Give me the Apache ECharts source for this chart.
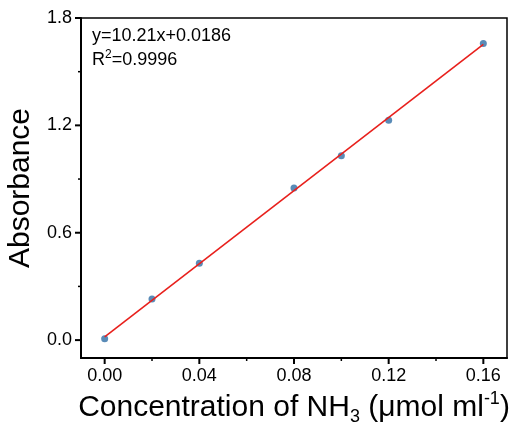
<!DOCTYPE html>
<html>
<head>
<meta charset="utf-8">
<script src="https://cdn.jsdelivr.net/npm/echarts@6/dist/echarts.min.js"></script>
<style>
  html, body { margin: 0; padding: 0; background: #fff; }
  #main { width: 513px; height: 423px; }
</style>
</head>
<body>
<div id="main"></div>
<script>
// measured points
const conc = [0, 0.02, 0.04, 0.08, 0.10, 0.12, 0.16];
const absorb = [0.008, 0.23, 0.43, 0.85, 1.03, 1.228, 1.658];
// fitted line y=10.21x+0.0186, ends at 0 and 0.16
const fitX = [0, 0.16];
const fitY = [0.0186, 1.6522];
// ticks
const xTicks = [0, 0.04, 0.08, 0.12, 0.16];
const xMinor = [0.02, 0.06, 0.10, 0.14];
const yTicks = [0, 0.6, 1.2, 1.8];
const yMinor = [0.3, 0.9, 1.5];

const X_MIN = -0.01, X_MAX = 0.17;
const Y_MIN = -0.1, Y_MAX = 1.8;

const FONT = 'Liberation Sans';
const chart = echarts.init(document.getElementById('main'));

// outward ticks: one custom series per tick set, positions from the axes
function tickSeries(dir, values, len, width) {
  return {
    type: 'custom',
    xAxisIndex: 0, yAxisIndex: 0,
    clip: false, silent: true, z: 5,
    data: values.map(v => (dir === 'x' ? [v, 0.5] : [0.05, v])),
    renderItem: function (params, api) {
      const style = { stroke: '#000', lineWidth: width };
      if (dir === 'x') {
        const p = api.coord([api.value(0), Y_MIN]);
        return { type: 'line', shape: { x1: p[0], y1: p[1], x2: p[0], y2: p[1] + len }, style: style };
      }
      const p = api.coord([X_MIN, api.value(1)]);
      return { type: 'line', shape: { x1: p[0] - len, y1: p[1], x2: p[0], y2: p[1] }, style: style };
    }
  };
}

let option = {
  animation: false,
  grid: {
    left: 81, right: 6, top: 18, bottom: 65, outerBoundsMode: 'none',
    show: true, borderColor: '#000', borderWidth: 1.5
  },
  xAxis: {
    type: 'value', min: X_MIN, max: X_MAX,
    splitLine: { show: false },
    axisLine: { show: true, onZero: false, lineStyle: { color: '#000', width: 2 } },
    axisTick: { show: false },
    axisLabel: {
      customValues: xTicks, margin: 9, color: '#000', fontSize: 18, fontFamily: FONT,
      formatter: v => v.toFixed(2)
    },
    name: '{t|Concentration of NH}{sub|3}{t| (\u03bcmol ml}{sup|-1}{t|)}',
    nameLocation: 'middle', nameGap: 28,
    nameTextStyle: {
      color: '#000', fontFamily: FONT, fontSize: 30,
      rich: {
        t: { fontSize: 30, fontFamily: FONT, color: '#000', lineHeight: 36 },
        sub: { fontSize: 18, fontFamily: FONT, color: '#000', lineHeight: 12, verticalAlign: 'bottom' },
        sup: { fontSize: 18, fontFamily: FONT, color: '#000', lineHeight: 18, verticalAlign: 'top' }
      }
    }
  },
  yAxis: {
    type: 'value', min: Y_MIN, max: Y_MAX,
    splitLine: { show: false },
    axisLine: { show: true, onZero: false, lineStyle: { color: '#000', width: 2 } },
    axisTick: { show: false },
    axisLabel: {
      customValues: yTicks, margin: 9, color: '#000', fontSize: 18, fontFamily: FONT,
      formatter: v => v.toFixed(1)
    },
    name: 'Absorbance',
    nameLocation: 'middle', nameGap: 45,
    nameTextStyle: { color: '#000', fontFamily: FONT, fontSize: 30 }
  },
  graphic: [
    {
      type: 'text', left: 92, top: 27,
      style: {
        text: 'y=10.21x+0.0186', fill: '#000', fontFamily: FONT, fontSize: 18
      }
    },
    {
      type: 'text', left: 92, top: 49,
      style: {
        text: '{a|R}{s|2}{a|=0.9996}',
        rich: {
          a: { fill: '#000', fontFamily: FONT, fontSize: 18, lineHeight: 20, verticalAlign: 'bottom' },
          s: { fill: '#000', fontFamily: FONT, fontSize: 12, lineHeight: 20, verticalAlign: 'top' }
        }
      }
    }
  ],
  series: [
    {
      type: 'scatter',
      data: conc.map((x, i) => [x, absorb[i]]),
      symbol: 'circle', symbolSize: 7,
      itemStyle: { color: '#2f6ea5' },
      z: 2
    },
    {
      type: 'line',
      data: fitX.map((x, i) => [x, fitY[i]]),
      showSymbol: false,
      lineStyle: { color: '#e8201c', width: 1.6 },
      z: 3
    },
    tickSeries('x', xTicks, 6, 2),
    tickSeries('x', xMinor, 3, 1.5),
    tickSeries('y', yTicks, 6, 2),
    tickSeries('y', yMinor, 3, 1.5)
  ]
};
chart.setOption(option);
</script>
</body>
</html>
